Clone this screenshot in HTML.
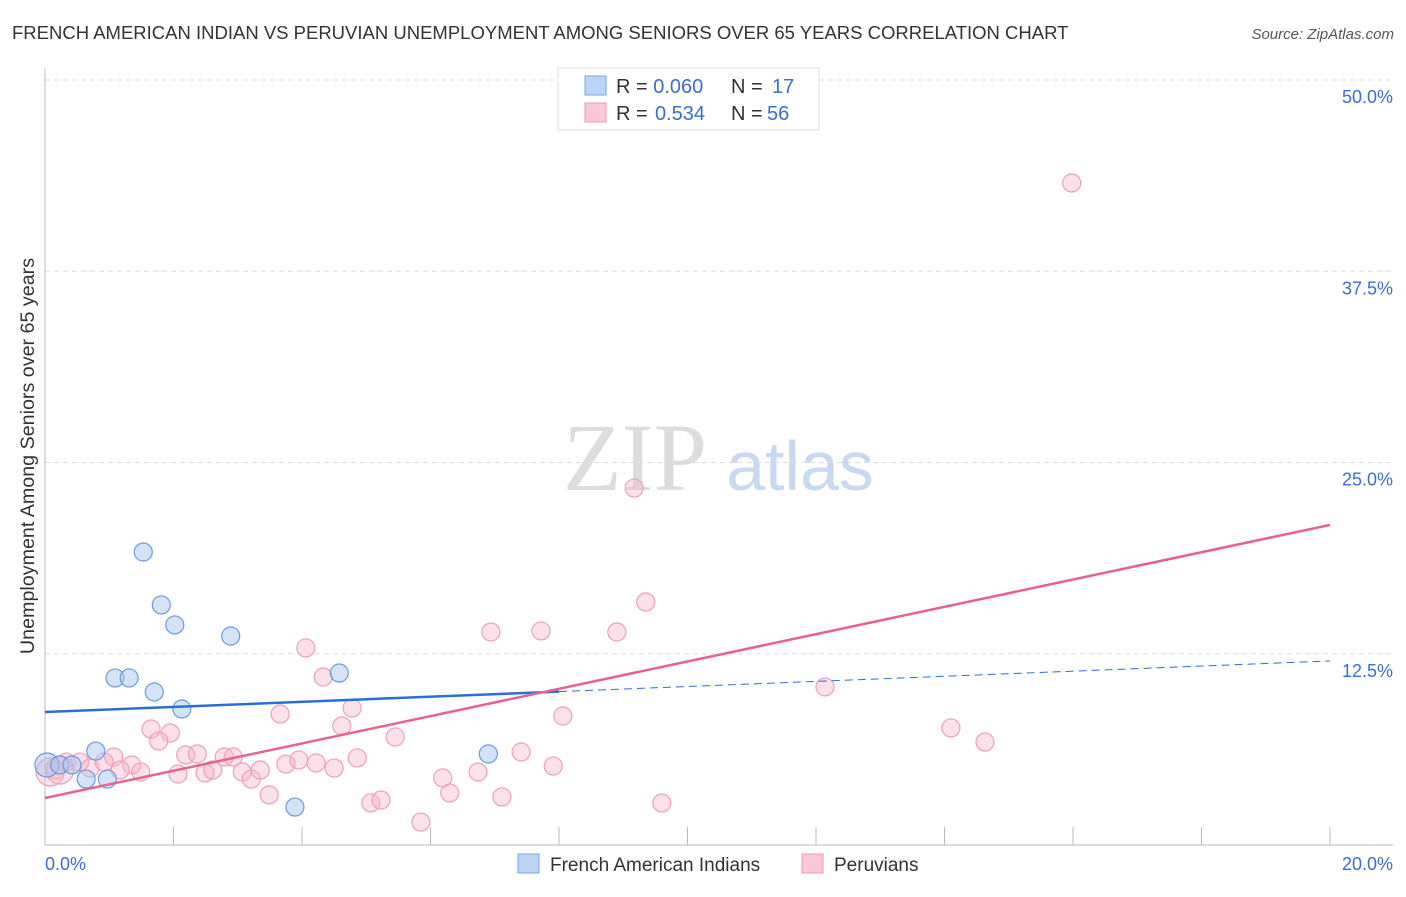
<!DOCTYPE html>
<html><head><meta charset="utf-8"><style>
body{margin:0;background:#fff;font-family:"Liberation Sans",sans-serif}
svg text{font-family:"Liberation Sans",sans-serif}
</style></head><body>
<svg id="c" width="1406" height="892">
<text x="12" y="39" font-size="18.5" fill="#333">FRENCH AMERICAN INDIAN VS PERUVIAN UNEMPLOYMENT AMONG SENIORS OVER 65 YEARS CORRELATION CHART</text>
<text x="1394" y="39" font-size="15" fill="#555" text-anchor="end" font-style="italic">Source: ZipAtlas.com</text>
<text x="635" y="490" font-size="96" fill="#ddd" text-anchor="middle" font-family="Liberation Serif" style="font-family:'Liberation Serif',serif">ZIP</text>
<text x="800" y="490" font-size="70" fill="#c9d9f2" text-anchor="middle">atlas</text>
<text transform="translate(34,456) rotate(-90)" font-size="19.7" fill="#333" text-anchor="middle">Unemployment Among Seniors over 65 years</text>
<g id="grid"></g><g id="marks"></g><g id="lines"></g>
<g>
<rect x="558" y="68" width="261" height="62" fill="#fff" stroke="#ddd"/>
<rect x="585" y="76" width="21" height="19" fill="#bcd4f5" stroke="#7aa5e6"/>
<rect x="585" y="103" width="21" height="19" fill="#fcc7d6" stroke="#ee9ab3"/>
<text x="616" y="93" font-size="20" fill="#333">R = <tspan fill="#3a6fd1">0.060</tspan><tspan x="731">N = </tspan><tspan x="772" fill="#3a6fd1">17</tspan></text>
<text x="616" y="120" font-size="20" fill="#333">R = <tspan x="655" fill="#3a6fd1">0.534</tspan><tspan x="731">N = </tspan><tspan x="767" fill="#3a6fd1">56</tspan></text>
</g>
<g>
<rect x="518" y="854" width="21" height="19" fill="#bcd4f5" stroke="#7aa5e6"/>
<text x="550" y="871" font-size="19" fill="#333">French American Indians</text>
<rect x="802" y="854" width="21" height="19" fill="#fcc7d6" stroke="#ee9ab3"/>
<text x="834" y="871" font-size="19" fill="#333">Peruvians</text>
</g>
</svg>
<script>
const xTicks=[0,20];
const yTicks=[12.5,25,37.5,50];
const blueX=[0.03,0.23,0.42,0.64,0.79,0.97,1.09,1.31,1.53,1.70,1.81,2.02,2.13,2.89,3.89,4.58,6.90];
const blueY=[5.23,5.23,5.23,4.31,6.14,4.31,10.92,10.92,19.15,10.0,15.69,14.38,8.89,13.66,2.48,11.24,5.95];
const pinkX=[15.98,9.17,9.35,6.94,7.72,8.90,4.06,4.33,12.14,3.66,4.78,8.06,14.10,14.63,1.65,1.95,1.77,4.62,5.45,2.19,2.37,2.79,2.93,1.07,1.35,1.49,2.07,2.49,2.61,3.07,3.21,3.35,3.75,3.95,4.22,4.50,4.86,7.41,7.91,6.19,6.74,3.49,5.07,5.23,6.30,7.11,5.85,9.60,0.17,0.33,0.54,0.70,0.92,1.17,0.08,0.23];
const pinkY=[43.27,23.33,15.88,13.92,13.99,13.92,12.88,10.98,10.33,8.56,8.95,8.43,7.65,6.73,7.58,7.32,6.80,7.78,7.06,5.88,5.95,5.75,5.75,5.75,5.23,4.77,4.64,4.71,4.90,4.77,4.31,4.90,5.29,5.56,5.36,5.03,5.69,6.08,5.16,4.38,4.77,3.27,2.75,2.94,3.40,3.14,1.50,2.75,4.90,5.42,5.42,5.03,5.42,4.90,4.77,4.90];
const blueFit=[8.69,0.167];
const pinkFit=[3.07,0.8925];
const X=v=>45+v/20*1285, Y=v=>845-v/50*765;
const NS='http://www.w3.org/2000/svg';
function mk(t,a,p){const e=document.createElementNS(NS,t);for(const k in a)e.setAttribute(k,a[k]);p.appendChild(e);return e;}
const g=document.getElementById('grid');
yTicks.forEach(v=>{const l=mk('line',{x1:45,x2:1393,y1:Y(v),y2:Y(v),stroke:'#ddd','stroke-dasharray':'5,4'},g);


const t=mk('text',{x:1393,y:Y(v)+23,'font-size':18,fill:'#3a6fd1','text-anchor':'end'},g);t.textContent=v.toFixed(1)+'%';

});
const ax=mk('line',{x1:45,x2:45,y1:68,y2:845,stroke:'#bbb'},g);


const bx=mk('line',{x1:45,x2:1393,y1:845,y2:845,stroke:'#bbb'},g);


for(let i=1;i<=10;i++){const tk=mk('line',{x1:X(i*2),x2:X(i*2),y1:827,y2:845,stroke:'#bbb'},g);

}
xTicks.forEach((v,i)=>{const t=mk('text',{x:i?1393:45,y:870,'font-size':18,fill:'#3a6fd1','text-anchor':i?'end':'start'},g);t.textContent=v.toFixed(1)+'%';

});
const m=document.getElementById('marks');
pinkX.forEach((v,i)=>{const c=mk('circle',{cx:X(v),cy:Y(pinkY[i]),r:i>=54?14:9,fill:'rgba(248,180,200,0.4)',stroke:'#eea0b8','stroke-width':1.2},m);

});
blueX.forEach((v,i)=>{const c=mk('circle',{cx:X(v),cy:Y(blueY[i]),r:i==0?12:9,fill:'rgba(170,200,240,0.5)',stroke:'#6a9be0','stroke-width':1.2},m);

});
const L=document.getElementById('lines');
const bs=mk('line',{x1:X(0),y1:Y(blueFit[0]),x2:X(8),y2:Y(blueFit[0]+blueFit[1]*8),stroke:'#2a6fd6','stroke-width':2.5},L);


const bd=mk('line',{x1:X(8),y1:Y(blueFit[0]+blueFit[1]*8),x2:X(20),y2:Y(blueFit[0]+blueFit[1]*20),stroke:'#2a6fd6','stroke-width':1,'stroke-dasharray':'8,5'},L);


const pl=mk('line',{x1:X(0),y1:Y(pinkFit[0]),x2:X(20),y2:Y(pinkFit[0]+pinkFit[1]*20),stroke:'#e8628f','stroke-width':2.5},L);


</script>
</body></html>
